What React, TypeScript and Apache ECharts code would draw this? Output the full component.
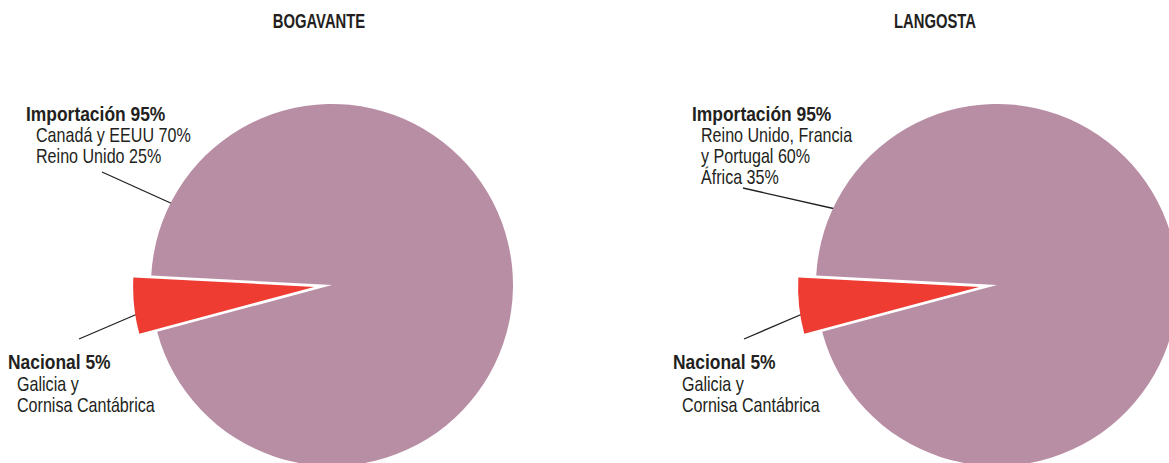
import React, { useEffect, useRef } from "react";
import * as echarts from "echarts";

const titles = ["BOGAVANTE", "LANGOSTA"];
const sliceNames = ["Nacional", "Importación"];
const bogavanteValues = [5, 95];
const langostaValues = [5, 95];
const bogavanteImportDetail = ["Canadá y EEUU 70%", "Reino Unido 25%"];
const langostaImportDetail = ["Reino Unido, Francia", "y Portugal 60%", "África 35%"];
const nacionalDetail = ["Galicia y", "Cornisa Cantábrica"];

const MAUVE = "#B88EA5";
const RED = "#EE3C33";
const INK = "#231F20";
const FONT = "'Liberation Sans', Arial, sans-serif";

export default function App() {
  const ref = useRef<HTMLDivElement>(null);
  useEffect(() => {
    if (!ref.current) return;
    const chart = echarts.init(ref.current, null, { renderer: "svg" });

    const pieSeries = (values: number[], cx: number) => ({
      type: "pie",
      center: [cx, 285],
      radius: 181,
      startAngle: 195,
      clockwise: true,
      selectedMode: "single",
      selectedOffset: 18,
      silent: true,
      label: { show: false },
      labelLine: { show: false },
      emphasis: { disabled: true },
      itemStyle: { borderWidth: 0 },
      data: values.map((v, i) => ({
        name: sliceNames[i],
        value: v,
        selected: i === 0,
        itemStyle: { color: i === 0 ? RED : MAUVE },
        select: { itemStyle: { color: RED } },
      })),
    });

    const boldText = (text: string, x: number, baseline: number) => ({
      type: "text",
      x,
      y: baseline - 7.4,
      scaleX: 0.83,
      silent: true,
      style: { text, fill: INK, font: `bold 21px ${FONT}`, verticalAlign: "middle", align: "left" },
    });
    const regText = (text: string, x: number, baseline: number) => ({
      type: "text",
      x,
      y: baseline - 7,
      scaleX: 0.805,
      silent: true,
      style: { text, fill: INK, font: `20px ${FONT}`, verticalAlign: "middle", align: "left" },
    });
    const leader = (x1: number, y1: number, x2: number, y2: number) => ({
      type: "line",
      silent: true,
      shape: { x1, y1, x2, y2 },
      style: { stroke: INK, lineWidth: 1.3 },
    });
    const title = (text: string, x: number) => ({
      type: "text",
      x,
      y: 21.2,
      scaleX: 0.76,
      silent: true,
      style: { text, fill: INK, font: `bold 19.5px ${FONT}`, verticalAlign: "middle", align: "center" },
    });

    const graphics: any[] = [
      title(titles[0], 319),
      title(titles[1], 935),
      boldText(`${sliceNames[1]} ${bogavanteValues[1]}%`, 26, 121),
      ...bogavanteImportDetail.map((t, i) => regText(t, 36, 142 + i * 21)),
      leader(102, 172, 175, 205),
      boldText(`${sliceNames[0]} ${bogavanteValues[0]}%`, 8, 369),
      ...nacionalDetail.map((t, i) => regText(t, 17, 391 + i * 21)),
      leader(79, 339, 142, 312),
      boldText(`${sliceNames[1]} ${langostaValues[1]}%`, 692, 121),
      ...langostaImportDetail.map((t, i) => regText(t, 701, 142 + i * 21)),
      leader(743, 188, 840, 210),
      boldText(`${sliceNames[0]} ${langostaValues[0]}%`, 673, 369),
      ...nacionalDetail.map((t, i) => regText(t, 682, 391 + i * 21)),
      leader(744, 339, 807, 312),
    ];

    chart.setOption({
      animation: false,
      backgroundColor: "#ffffff",
      series: [pieSeries(bogavanteValues, 332), pieSeries(langostaValues, 997)],
      graphic: graphics,
    });
    return () => chart.dispose();
  }, []);
  return (
    <div
      ref={ref}
      style={{ position: "fixed", left: 0, top: 0, width: 1169, height: 463 }}
    />
  );
}
